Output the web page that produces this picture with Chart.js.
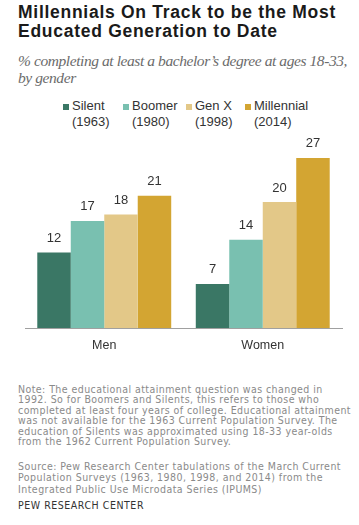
<!DOCTYPE html>
<html>
<head>
<meta charset="utf-8">
<script src="https://cdn.jsdelivr.net/npm/chart.js@4.4.1/dist/chart.umd.min.js"></script>
<style>
  html, body { margin: 0; padding: 0; background: #fff; }
  body { width: 359px; height: 525px; position: relative; overflow: hidden; }
  .blk { position: absolute; left: 18px; white-space: nowrap; }
  .blk span { display: inline-block; }
  #title { top: 3px; font-family: "Liberation Sans", Arial, sans-serif; font-weight: bold; font-size: 17.5px; line-height: 18.7px; color: #1a1a1a; }
  #subtitle { top: 52px; font-family: "Liberation Serif", serif; font-style: italic; font-size: 15.5px; line-height: 17px; color: #6b6b6b; }
  #note { top: 384px; font-family: "DejaVu Sans", sans-serif; font-stretch: condensed; font-size: 10.5px; line-height: 10.4px; color: #8a8a8a; }
  #source { top: 461px; font-family: "DejaVu Sans", sans-serif; font-stretch: condensed; font-size: 10.5px; line-height: 11.3px; color: #8a8a8a; }
  #brand { top: 499px; font-family: "DejaVu Sans", sans-serif; font-stretch: condensed; font-size: 10.5px; line-height: 12px; color: #333; }
  #legend { position: absolute; top: 98px; left: 0; width: 359px; height: 32px; font-family: "Liberation Sans", Arial, sans-serif; font-size: 13px; color: #333; }
  .li { position: absolute; top: 0; line-height: 15.6px; white-space: nowrap; }
  .sw { position: absolute; width: 6px; height: 6px; left: -9px; top: 6px; }
  #wrap { position: absolute; left: 0; top: 130px; width: 359px; height: 230px; }
</style>
</head>
<body>
<div id="title" class="blk"></div>
<div id="subtitle" class="blk"></div>
<div id="legend"></div>
<div id="wrap"><canvas id="c" width="359" height="230"></canvas></div>
<div id="note" class="blk"></div>
<div id="source" class="blk"></div>
<div id="brand" class="blk"></div>
<script>
// ---- data ----
const categories = ["Men", "Women"];
const seriesNames = ["Silent", "Boomer", "Gen X", "Millennial"];
const seriesYears = ["(1963)", "(1980)", "(1998)", "(2014)"];
const silent = [12, 7];
const boomer = [17, 14];
const genX = [18, 20];
const millennial = [21, 27];
const yTicks = [0, 30];

const titleLines = ["Millennials On Track to be the Most", "Educated Generation to Date"];
const subtitleLines = ["% completing at least a bachelor\u2019s degree at ages 18-33,", "by gender"];
const noteLines = [
  "Note: The educational attainment question was changed in",
  "1992. So for Boomers and Silents, this refers to those who",
  "completed at least four years of college. Educational attainment",
  "was not available for the 1963 Current Population Survey. The",
  "education of Silents was approximated using 18-33 year-olds",
  "from the 1962 Current Population Survey."
];
const sourceLines = [
  "Source: Pew Research Center tabulations of the March Current",
  "Population Surveys (1963, 1980, 1998, and 2014) from the",
  "Integrated Public Use Microdata Series (IPUMS)"
];
const brandLines = ["PEW RESEARCH CENTER"];

// ---- styles ----
const colors = ["#3a7765", "#79c0b0", "#e3c888", "#d3a532"];
const legendLeft = [72, 132, 195, 254];

function fillBlock(id, lines, targetIdx, targetW) {
  const el = document.getElementById(id);
  el.innerHTML = lines.map(l => '<div><span>' + l.replace(/&/g,'&amp;') + '</span></div>').join('');
  if (targetIdx != null) {
    const sp = el.querySelectorAll('span')[targetIdx];
    const w = sp.getBoundingClientRect().width;
    const n = lines[targetIdx].length;
    const ls = (targetW - w) / n;
    el.style.letterSpacing = ls + 'px';
  }
}
fillBlock('title', titleLines, 0, 318);
fillBlock('subtitle', subtitleLines, 0, 329);
fillBlock('note', noteLines, 2, 333);
fillBlock('source', sourceLines, 0, 323);
fillBlock('brand', brandLines, 0, 126);

const lg = document.getElementById('legend');
seriesNames.forEach((n, i) => {
  const d = document.createElement('div');
  d.className = 'li';
  d.style.left = legendLeft[i] + 'px';
  d.innerHTML = '<div class="sw" style="background:' + colors[i] + '"></div>' + n + '<br>' + seriesYears[i];
  lg.appendChild(d);
});

const seriesData = [silent, boomer, genX, millennial];

const labelPlugin = {
  id: 'valLabels',
  afterDatasetsDraw(chart) {
    const ctx = chart.ctx;
    ctx.save();
    ctx.font = '13px "Liberation Sans", Arial, sans-serif';
    ctx.fillStyle = '#333';
    ctx.textAlign = 'center';
    ctx.textBaseline = 'middle';
    chart.data.datasets.forEach((ds, i) => {
      chart.getDatasetMeta(i).data.forEach((bar, j) => {
        ctx.fillText(String(ds.data[j]), bar.x, bar.y - 14);
      });
    });
    ctx.restore();
  }
};

new Chart(document.getElementById('c'), {
  type: 'bar',
  data: {
    labels: categories,
    datasets: seriesNames.map((n, i) => ({
      label: n,
      data: seriesData[i],
      backgroundColor: colors[i],
      borderWidth: 0,
      barPercentage: 1.0,
      categoryPercentage: 0.845
    }))
  },
  options: {
    responsive: false,
    animation: false,
    layout: { padding: { left: 25, right: 17, top: 9, bottom: 0 } },
    plugins: { legend: { display: false }, tooltip: { enabled: false } },
    scales: {
      x: {
        grid: { display: false, drawTicks: false },
        border: { display: true, color: '#a0a0a0', width: 1 },
        ticks: { color: '#333', font: { family: '"Liberation Sans", Arial, sans-serif', size: 12.5 }, padding: 10.5 },
        afterFit: s => { s.height = 32; }
      },
      y: {
        display: false,
        min: yTicks[0],
        max: yTicks[1]
      }
    }
  },
  plugins: [labelPlugin]
});
</script>
</body>
</html>
